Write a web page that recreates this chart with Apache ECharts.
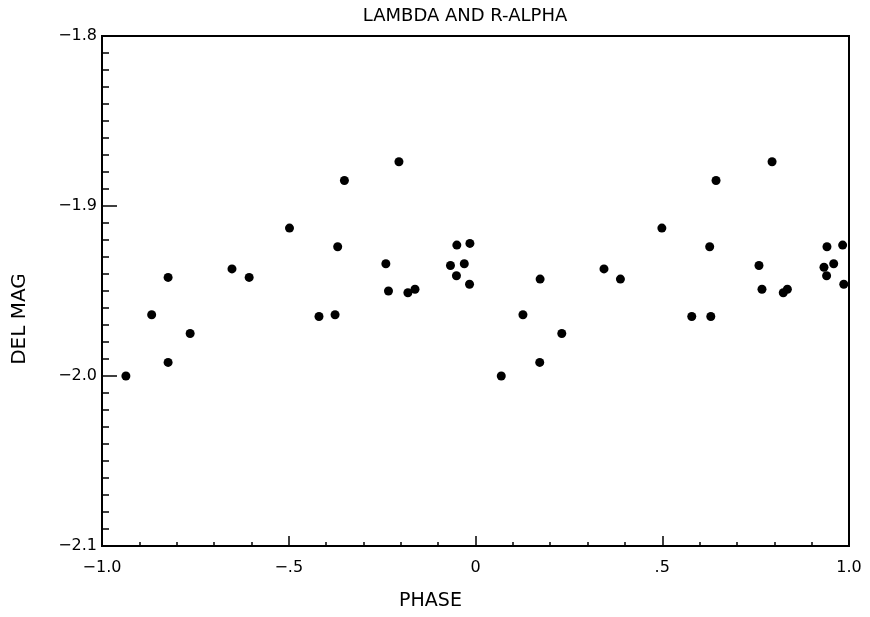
<!DOCTYPE html>
<html>
<head>
<meta charset="utf-8">
<title>LAMBDA AND R-ALPHA</title>
<script src="https://cdn.jsdelivr.net/npm/echarts@6/dist/echarts.min.js"></script>
<style>
  html, body { margin: 0; padding: 0; background: #fff; }
  #chart { width: 870px; height: 617px; }
</style>
</head>
<body>
<div id="chart"></div>
<script>
// phase, del mag
var phase = [
  -0.936, -0.867, -0.823, -0.823, -0.764, -0.652, -0.606, -0.498, -0.419, -0.376,
  -0.369, -0.351, -0.240, -0.233, -0.205, -0.181, -0.162, -0.067, -0.050, -0.051,
  -0.030, -0.015, -0.016, 0.069, 0.127, 0.173, 0.172, 0.231, 0.344, 0.388,
  0.499, 0.579, 0.627, 0.630, 0.644, 0.759, 0.767, 0.794, 0.824, 0.835,
  0.933, 0.941, 0.940, 0.959, 0.983, 0.986
]
var delMag = [
  -2.000, -1.964, -1.942, -1.992, -1.975, -1.937, -1.942, -1.913, -1.965, -1.964,
  -1.924, -1.885, -1.934, -1.950, -1.874, -1.951, -1.949, -1.935, -1.923, -1.941,
  -1.934, -1.922, -1.946, -2.000, -1.964, -1.943, -1.992, -1.975, -1.937, -1.943,
  -1.913, -1.965, -1.924, -1.965, -1.885, -1.935, -1.949, -1.874, -1.951, -1.949,
  -1.936, -1.924, -1.941, -1.934, -1.923, -1.946
]
var xTicks = [-1, -0.5, 0, 0.5, 1]
var xTickLabels = ['−1.0', '−.5', '0', '.5', '1.0']
var yTicks = [-2.1, -2.0, -1.9, -1.8]
var yTickLabels = ['−2.1', '−2.0', '−1.9', '−1.8']

var FONT = 'DejaVu Sans'

// 按数值查刻度文字
function tickLabel(ticks, labels) {
  return function (v) {
    for (var i = 0; i < ticks.length; i++) {
      if (Math.abs(ticks[i] - v) < 1e-6) return labels[i]
    }
    return ''
  }
}

var points = []
for (var i = 0; i < phase.length; i++) {
  points.push([phase[i], delMag[i]])
}

var chart = echarts.init(document.getElementById('chart'))
chart.setOption({
  animation: false,
  backgroundColor: '#fff',
  title: {
    text: 'LAMBDA AND R-ALPHA',
    left: 465,
    textAlign: 'center',
    top: 7,
    padding: 0,
    textStyle: { fontFamily: FONT, fontSize: 18, fontWeight: 'normal', color: '#000' }
  },
  grid: {
    left: 102, right: 21, top: 36, bottom: 71,
    show: true, borderColor: '#000', borderWidth: 2
  },
  xAxis: {
    type: 'value',
    min: -1, max: 1, interval: 0.5,
    name: 'PHASE',
    nameLocation: 'middle',
    nameGap: 46,
    nameTextStyle: { fontFamily: FONT, fontSize: 19, color: '#000', padding: [0, 90, 0, 0] },
    axisLine: { onZero: false, lineStyle: { color: '#000', width: 2 } },
    axisTick: { inside: true, length: 10, lineStyle: { color: '#000', width: 1.5 } },
    minorTick: { show: true, splitNumber: 5, length: 4, lineStyle: { color: '#000', width: 1.5 } },
    splitLine: { show: false },
    axisLabel: {
      margin: 14, color: '#000', fontFamily: FONT, fontSize: 16,
      formatter: tickLabel(xTicks, xTickLabels)
    }
  },
  yAxis: {
    type: 'value',
    min: -2.1, max: -1.8, interval: 0.1,
    name: 'DEL MAG',
    nameLocation: 'middle',
    nameRotate: 90,
    nameGap: 72,
    nameTextStyle: { fontFamily: FONT, fontSize: 20, color: '#000', padding: [0, 56, 0, 0] },
    axisLine: { onZero: false, lineStyle: { color: '#000', width: 2 } },
    axisTick: { inside: true, length: 15, lineStyle: { color: '#000', width: 1.5 } },
    minorTick: { show: true, splitNumber: 10, length: 7, lineStyle: { color: '#000', width: 1.5 } },
    splitLine: { show: false },
    axisLabel: {
      margin: 5, color: '#000', fontFamily: FONT, fontSize: 16,
      formatter: tickLabel(yTicks, yTickLabels)
    }
  },
  series: [{
    type: 'scatter',
    data: points,
    symbol: 'circle',
    symbolSize: 9,
    itemStyle: { color: '#000', opacity: 1 }
  }]
})
</script>
</body>
</html>
